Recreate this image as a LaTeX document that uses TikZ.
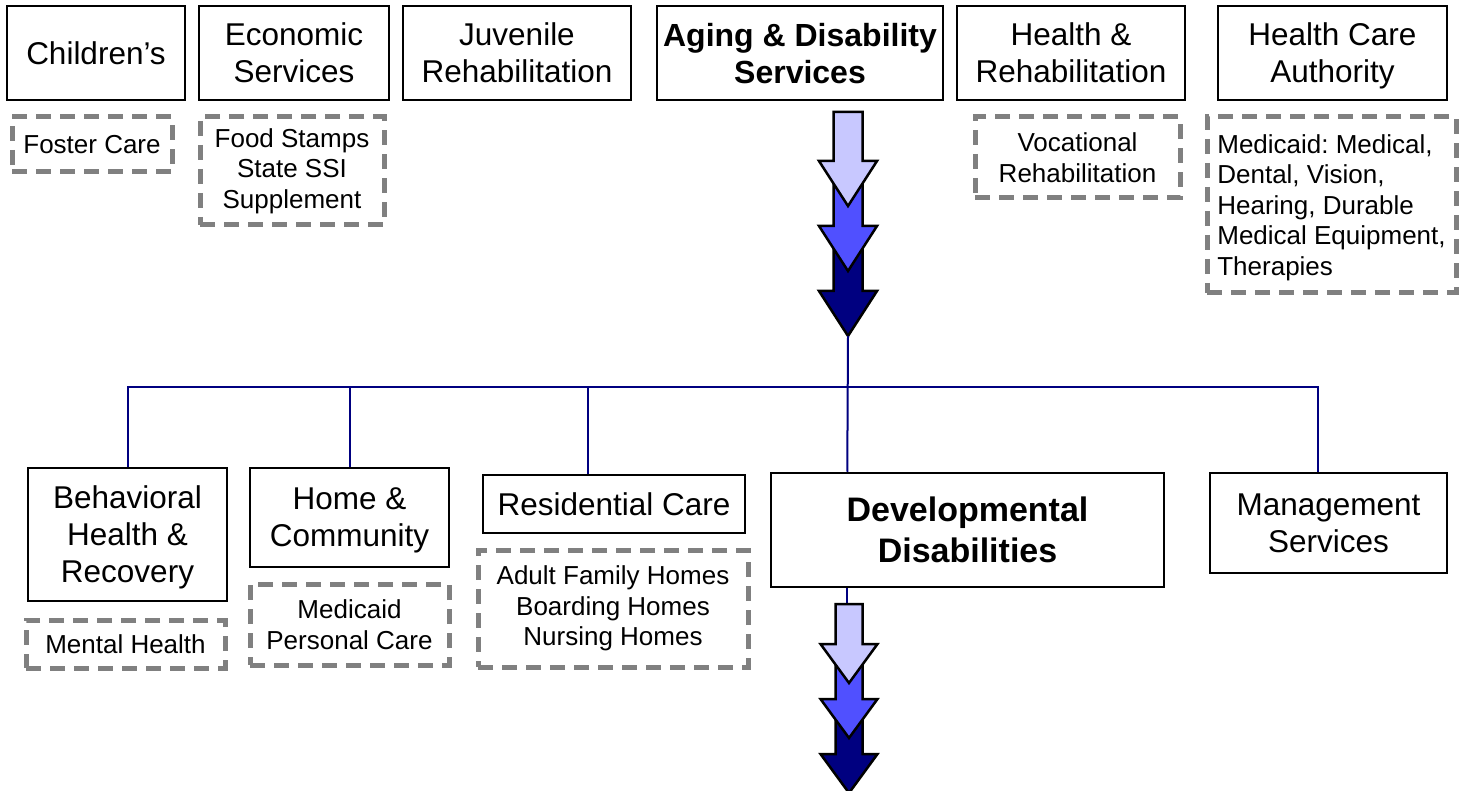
\documentclass[tikz,border=0pt]{standalone}
\usepackage{fontspec}
\setmainfont{Liberation Sans}
\usetikzlibrary{calc}
\definecolor{navy}{HTML}{000080}
\definecolor{lightblue}{HTML}{C8C8FF}
\definecolor{midblue}{HTML}{5050FF}
\definecolor{dashgray}{HTML}{808080}
\newcommand\bx[7]{%
  \pgfmathsetmacro\cx{(#2+#4)/2}\pgfmathsetmacro\cy{(#3+#5)/2}%
  \pgfmathsetmacro\ww{#4-#2}\pgfmathsetmacro\hh{#5-#3}%
  \node[#6, minimum width=\ww pt, minimum height=\hh pt] (#1) at (\cx,\cy) {#7};}
\newcommand\barrow[8]{%
  \draw[fill=#8, line width=2.5pt, line join=miter]
    (#2-#6,#3) -- (#2+#6,#3) -- (#2+#6,#4) -- (#2+#7,#4) -- (#2,#5)
    -- (#2-#7,#4) -- (#2-#6,#4) -- cycle;
  \coordinate (#1) at (#2,#5);}
\tikzset{
  box/.style={draw=black, line width=2.5pt, fill=white, inner sep=0pt, align=center,
    text depth=0pt, font=\fontsize{31.5}{37}\selectfont},
  dbox/.style={draw=dashgray, line width=5pt, dash pattern=on 15pt off 9pt, inner sep=0pt,
    align=center, font=\fontsize{26}{30.5}\selectfont},
  conn/.style={draw=navy, line width=2pt}
}
\begin{document}
\frenchspacing
\begin{tikzpicture}[x=1pt,y=-1pt]
\useasboundingbox (0,0) rectangle (1470,791);
% top row
\bx{child}{7}{6}{185}{100}{box}{Children’s}
\bx{econ}{199}{6}{389}{100}{box}{Economic\\Services}
\bx{juv}{403}{6}{631}{100}{box}{Juvenile\\Rehabilitation}
\bx{aging}{657}{6}{943}{100}{box,font=\fontsize{32}{37}\selectfont\bfseries}{Aging \& Disability\\Services}
\bx{hr}{957}{6}{1185}{100}{box}{Health \&\\Rehabilitation}
\bx{hca}{1218}{6}{1447}{100}{box}{Health Care\\Authority}
% top dashed
\bx{foster}{12}{117}{172}{172}{dbox}{Foster Care}
\bx{food}{200}{117}{384}{225}{dbox}{Food Stamps\\State SSI\\Supplement}
\bx{voc}{975}{117}{1180}{198}{dbox}{Vocational\\Rehabilitation}
\bx{medicaid}{1207}{117}{1456}{293}{dbox,align=left,text depth=0pt}{Medicaid: Medical,\\Dental, Vision,\\Hearing, Durable\\Medical Equipment,\\Therapies}
% top arrows
\barrow{ta3}{848}{242}{291}{336}{14.5}{29}{navy}
\barrow{ta2}{848}{177}{226}{271}{14.5}{29}{midblue}
\barrow{ta1}{848}{112}{161}{206}{14.5}{29}{lightblue}
% bottom row
\bx{beh}{28}{468}{227}{601}{box}{Behavioral\\Health \&\\Recovery}
\bx{home}{250}{468}{449}{567}{box}{Home \&\\Community}
\bx{res}{483}{475}{745}{533}{box}{Residential Care}
\bx{dev}{771}{473}{1164}{587}{box,font=\fontsize{34}{41}\selectfont\bfseries}{Developmental\\Disabilities}
\bx{mgmt}{1210}{473}{1447}{573}{box}{Management\\Services}
% bottom dashed
\bx{mental}{26}{620}{225}{668}{dbox}{Mental Health}
\bx{mpc}{250}{584}{449}{665}{dbox}{Medicaid\\Personal Care}
\bx{afh}{478}{550}{748}{667}{dbox}{Adult Family Homes\\Boarding Homes\\Nursing Homes}
% connectors
\coordinate (bar) at (848,387);
\coordinate (devtop) at ($(dev.north west)!0.196!(dev.north east)$);
\coordinate (restop) at ($(res.north west)!0.40!(res.north east)$);
\coordinate (mgmttop) at ($(mgmt.north west)!0.456!(mgmt.north east)$);
\draw[conn] (ta3) -- (devtop);
\draw[conn] (beh.north) |- (bar) -| (mgmttop);
\draw[conn] (home.north) -- (home.north |- bar);
\draw[conn] (restop) -- (restop |- bar);
% bottom arrows
\coordinate (devbot) at ($(dev.south west)!0.196!(dev.south east)$);
\draw[conn] (devbot) -- ++(0,18);
\barrow{ba3}{849}{714}{754}{793}{13.5}{28.5}{navy}
\barrow{ba2}{849}{659}{699}{738}{13.5}{28.5}{midblue}
\barrow{ba1}{849}{604}{644}{683}{13.5}{28.5}{lightblue}
\end{tikzpicture}
\end{document}
